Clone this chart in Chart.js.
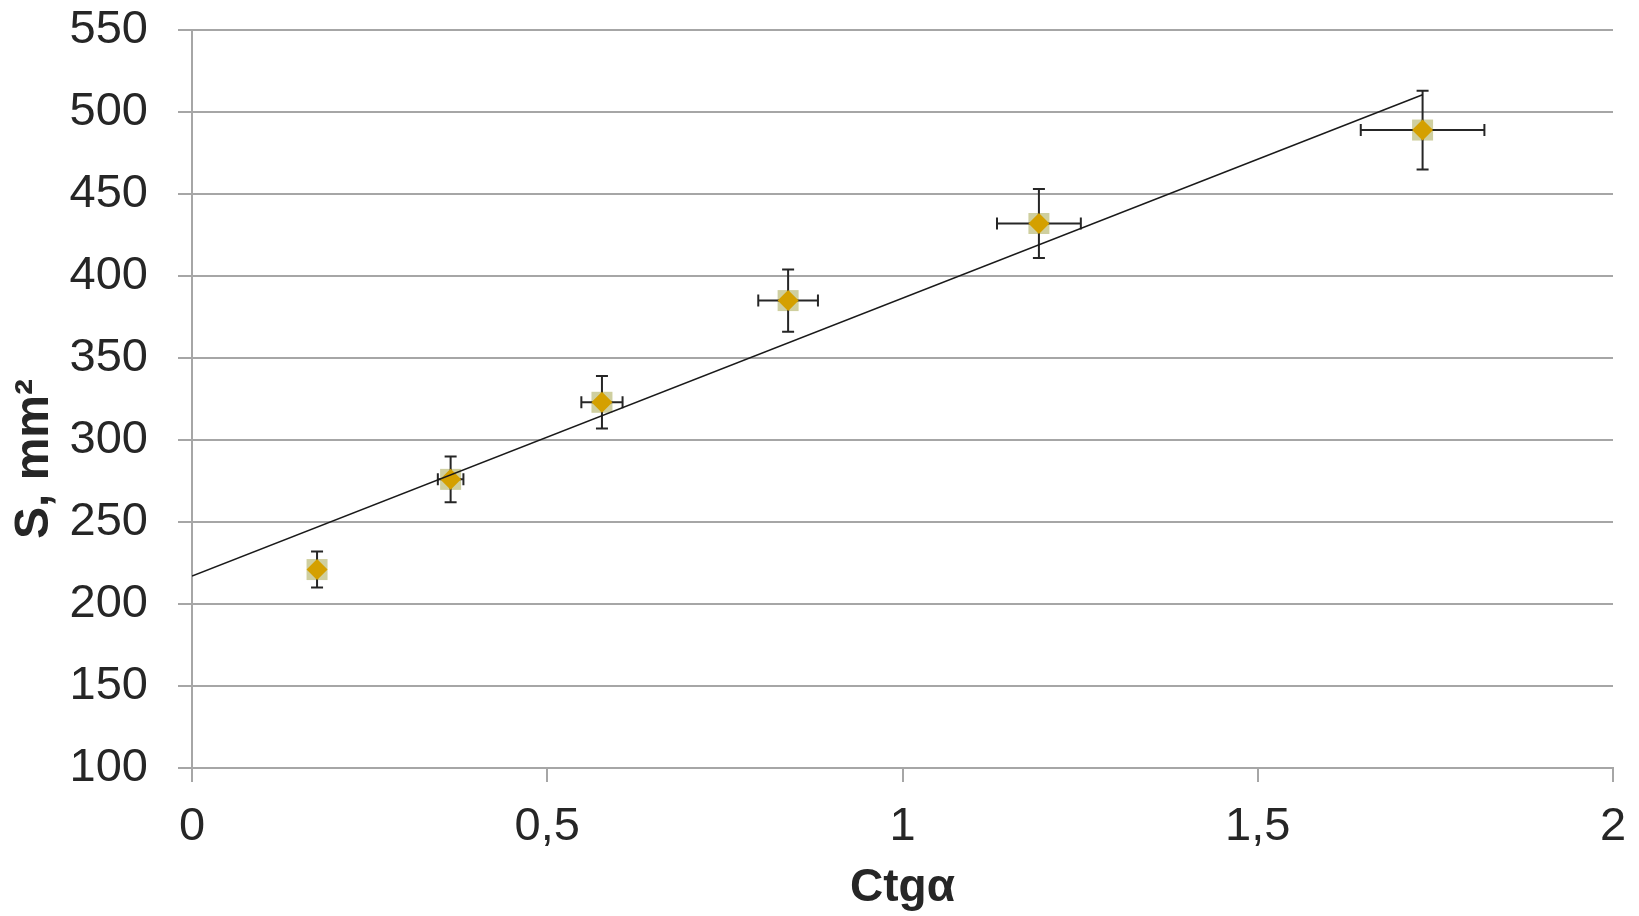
<!DOCTYPE html>
<html>
<head>
<meta charset="utf-8">
<script src="https://cdn.jsdelivr.net/npm/chart.js@4/dist/chart.umd.min.js"></script>
<style>
  html, body { margin: 0; padding: 0; background: #fff; }
  #wrap { width: 1639px; height: 916px; }
</style>
</head>
<body>
<div id="wrap"><canvas id="scatter-chart"></canvas></div>
<script>
// measured points: ctg(alpha) vs area S
var ctg = [0.176, 0.364, 0.577, 0.839, 1.192, 1.732];
var area = [221, 276, 323, 385, 432, 489];
var ctgErr = [0, 0.018, 0.029, 0.042, 0.059, 0.087];
var areaErr = [11, 14, 16, 19, 21, 24];

// linear trend line ends
var trendX = [0, 1.732];
var trendY = [217, 510.5];

var xTickLabels = ['0', '0,5', '1', '1,5', '2'];

var textColor = '#262626';
var gridColor = '#a6a6a6';
var fontFamily = "'Liberation Sans', Arial, sans-serif";

var points = ctg.map(function(v, i) { return {x: v, y: area[i]}; });
var trend = trendX.map(function(v, i) { return {x: v, y: trendY[i]}; });

// error bars drawn right after the square markers, below the diamonds
var errorBars = {
  id: 'errorBars',
  afterDatasetDraw: function(chart, args) {
    if (args.index !== 2) return;
    var ctx = chart.ctx, xs = chart.scales.x, ys = chart.scales.y;
    var cap = 6;
    ctx.save();
    ctx.strokeStyle = textColor;
    ctx.lineWidth = 2;
    ctg.forEach(function(v, i) {
      var px = xs.getPixelForValue(v);
      var py = ys.getPixelForValue(area[i]);
      ctx.beginPath();
      if (areaErr[i] > 0) {
        var top = ys.getPixelForValue(area[i] + areaErr[i]);
        var bot = ys.getPixelForValue(area[i] - areaErr[i]);
        ctx.moveTo(px, top); ctx.lineTo(px, bot);
        ctx.moveTo(px - cap, top); ctx.lineTo(px + cap, top);
        ctx.moveTo(px - cap, bot); ctx.lineTo(px + cap, bot);
      }
      if (ctgErr[i] > 0) {
        var left = xs.getPixelForValue(v - ctgErr[i]);
        var right = xs.getPixelForValue(v + ctgErr[i]);
        ctx.moveTo(left, py); ctx.lineTo(right, py);
        ctx.moveTo(left, py - cap); ctx.lineTo(left, py + cap);
        ctx.moveTo(right, py - cap); ctx.lineTo(right, py + cap);
      }
      ctx.stroke();
    });
    ctx.restore();
  }
};

new Chart(document.getElementById('scatter-chart'), {
  type: 'scatter',
  plugins: [errorBars],
  data: {
    datasets: [{
        data: trend,
        showLine: true,
        borderColor: '#1a1a1a',
        borderWidth: 1.5,
        pointRadius: 0,
        order: 0
      }, {
        data: points,
        pointStyle: 'rectRot',
        pointRadius: 10.5,
        pointHoverRadius: 10.5,
        backgroundColor: '#d4a000',
        borderWidth: 0,
        order: 1
      }, {
        data: points,
        pointStyle: 'rect',
        pointRadius: 14.85,
        pointHoverRadius: 14.85,
        backgroundColor: '#cfcf9f',
        borderWidth: 0,
        order: 2
      }]
  },
  options: {
    responsive: true,
    maintainAspectRatio: false,
    animation: false,
    layout: {
      padding: { top: 30, right: 26, left: 0, bottom: 0 }
    },
    plugins: {
      legend: { display: false },
      tooltip: { enabled: false }
    },
    scales: {
      x: {
        type: 'linear',
        min: 0,
        max: 2,
        afterFit: function(scale) {
          scale.height = 148;
          scale.paddingLeft = 0;
          scale.paddingRight = 0;
        },
        ticks: {
          stepSize: 0.5,
          padding: 17,
          color: textColor,
          font: { family: fontFamily, size: 47 },
          callback: function(v) { return xTickLabels[Math.round(v * 2)]; }
        },
        grid: {
          drawOnChartArea: false,
          color: gridColor,
          lineWidth: 2,
          tickLength: 14
        },
        border: { color: gridColor, width: 2 },
        title: {
          display: true,
          text: 'Ctgα',
          color: textColor,
          font: { family: fontFamily, size: 46, weight: 'bold' },
          padding: { top: 0, bottom: 0 }
        }
      },
      y: {
        min: 100,
        max: 550,
        afterFit: function(scale) {
          scale.width = 192;
          scale.paddingTop = 0;
          scale.paddingBottom = 0;
        },
        ticks: {
          stepSize: 50,
          padding: 30,
          color: textColor,
          font: { family: fontFamily, size: 47 }
        },
        grid: {
          color: gridColor,
          lineWidth: 2,
          tickLength: 14
        },
        border: { color: gridColor, width: 2 },
        title: {
          display: true,
          text: 'S, mm²\u00a0\u00a0\u00a0\u00a0\u00a0\u00a0\u00a0\u00a0\u00a0',
          color: textColor,
          font: { family: fontFamily, size: 48, weight: 'bold' },
          padding: { top: 6, bottom: 0 }
        }
      }
    }
  }
});
</script>
</body>
</html>
